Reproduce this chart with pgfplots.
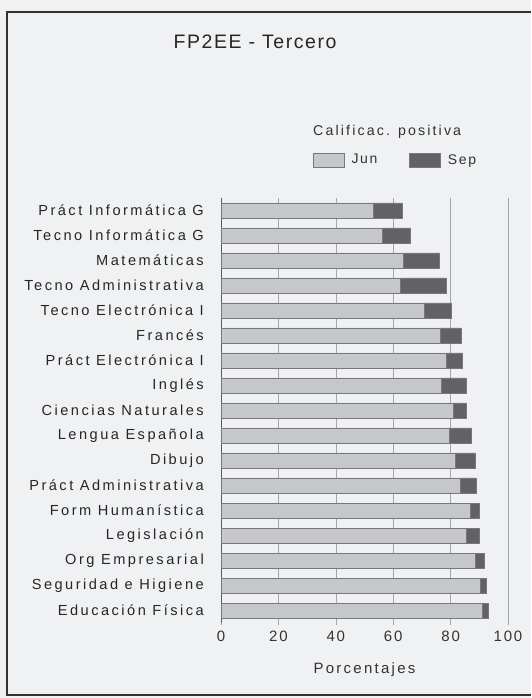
\documentclass[border=0pt]{standalone}
\usepackage{pgfplots}
\pgfplotsset{compat=1.18}
\usepackage{fontspec}
\setmainfont{Liberation Sans}
\newfontfamily\lsf[LetterSpace=12]{Liberation Sans}
\newfontfamily\ysf[LetterSpace=17]{Liberation Sans}
\newfontfamily\csf[LetterSpace=15]{Liberation Sans}
\newfontfamily\tsf[LetterSpace=8]{Liberation Sans}
\definecolor{bg}{RGB}{240,241,243}
\definecolor{jun}{RGB}{198,199,201}
\definecolor{sep}{RGB}{98,98,100}
\definecolor{edge}{RGB}{120,120,122}
\definecolor{gridc}{RGB}{165,166,168}
\definecolor{framec}{RGB}{50,50,50}
\begin{document}
\begin{tikzpicture}[x=1bp,y=1bp]
\fill[bg] (0,0) rectangle (531,698);
\draw[framec, line width=1.5bp] (531,686) -- (7,686) -- (7,3) -- (531,3);
\begin{axis}[
  at={(221bp,75bp)}, anchor=south west,
  scale only axis, width=287bp, height=425bp,
  clip mode=individual,
  xbar stacked, bar width=15bp,
  xmin=0, xmax=100, xtick={0,20,...,100},
  ymin=-0.5, ymax=16.5, y dir=reverse,
  ytick={0,...,16},
  yticklabels={Práct Informática G,Tecno Informática G,Matemáticas,Tecno Administrativa,Tecno Electrónica I,Francés,Práct Electrónica I,Inglés,Ciencias Naturales,Lengua Española,Dibujo,Práct Administrativa,Form Humanística,Legislación,Org Empresarial,Seguridad e Higiene,Educación Física},
  axis y line*=left, axis x line*=bottom,
  x axis line style={draw=none},
  y axis line style={draw={rgb,255:red,90;green,90;blue,92}, line width=0.8bp},
  xmajorgrids, grid style={gridc, line width=0.6bp},
  ytick style={draw=none},
  xtick style={gridc, line width=0.6bp},
  tick align=outside, major tick length=2bp,
  /pgf/number format/assume math mode=true,
  xticklabel style={font=\lsf\fontsize{15bp}{17bp}\selectfont, yshift=-3bp, text=black!80},
  yticklabel style={font=\ysf\fontsize{14.6bp}{16bp}\selectfont, inner sep=0pt, xshift=-15bp, text=black!85},
  xlabel={Porcentajes},
  xlabel style={font=\csf\fontsize{15bp}{17bp}\selectfont, at={(axis description cs:0.5,-0.1106)}, anchor=center, text=black!80},
  title={FP2EE - Tercero},
  title style={font=\tsf\fontsize{19.5bp}{21bp}\selectfont, at={(axis description cs:0.1185,1.354)}, anchor=center, text=black!85},
  legend style={at={(axis description cs:0.3206,1.108)}, anchor=north west, draw=none, fill=none, inner sep=0pt,
    font=\lsf\fontsize{14bp}{16bp}\selectfont, text=black!80,
    /tikz/every even column/.append style={column sep=30bp}},
  legend columns=2, legend cell align=left,
  legend image code/.code={\draw[#1] (0bp,-7bp) rectangle (31bp,7bp); \path[draw=none,fill=none] (0bp,0bp) -- (36bp,0bp);},
]
\addplot[fill=jun, draw=edge, line width=0.7bp] coordinates {
(53,0) (56.2,1) (63.6,2) (62.4,3) (70.7,4) (76.5,5) (78.5,6) (76.7,7) (80.8,8) (79.6,9) (81.5,10) (83.3,11) (87,12) (85.6,13) (88.6,14) (90.2,15) (91,16)};
\addlegendentry{Jun}
\addplot[fill=sep, draw=edge, line width=0.7bp] coordinates {
(10.1,0) (9.9,1) (12.6,2) (16,3) (9.6,4) (7.3,5) (5.7,6) (8.7,7) (4.8,8) (7.8,9) (7.2,10) (5.6,11) (3,12) (4.5,13) (3,14) (2.3,15) (2.2,16)};
\addlegendentry{Sep}
\node[anchor=base west, font=\csf\fontsize{14.2bp}{16bp}\selectfont, text=black!80, inner sep=0pt] at (axis description cs:0.3206,1.146) {Calificac. positiva};
\end{axis}
\end{tikzpicture}
\end{document}
